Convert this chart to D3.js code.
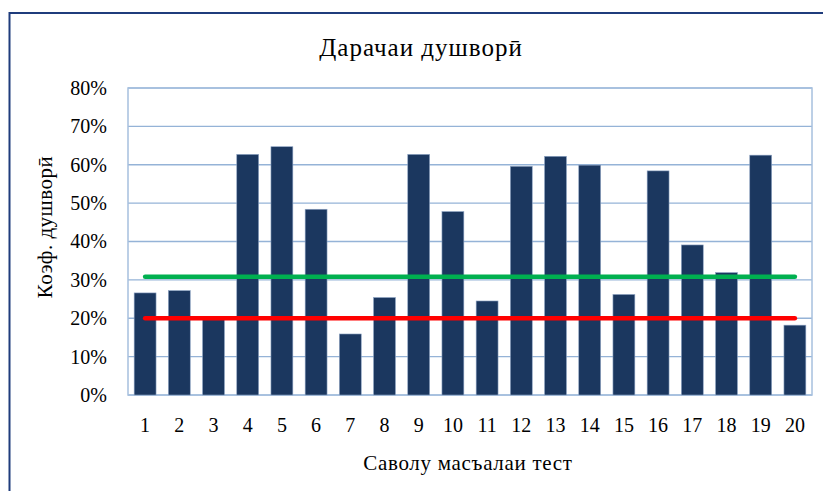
<!DOCTYPE html>
<html>
<head>
<meta charset="utf-8">
<script src="https://cdn.jsdelivr.net/npm/d3@7"></script>
<style>
  body { margin: 0; background: #fff; }
  text { font-family: "Liberation Serif", "DejaVu Serif", serif; fill: #000; }
</style>
</head>
<body>
<div id="chart"></div>
<script>
// data
const questions = ["1","2","3","4","5","6","7","8","9","10","11","12","13","14","15","16","17","18","19","20"]
const difficulty = [0.266, 0.272, 0.197, 0.627, 0.647, 0.484, 0.159, 0.254, 0.627, 0.478,
                    0.245, 0.596, 0.622, 0.599, 0.262, 0.584, 0.391, 0.319, 0.625, 0.182]
const greenLevel = 0.308
const redLevel = 0.20
const yTicks = [0, 0.1, 0.2, 0.3, 0.4, 0.5, 0.6, 0.7, 0.8]

const title = "Дарачаи душворӣ"
const xTitle = "Саволу масъалаи тест"
const yTitle = "Коэф. душворӣ"

const width = 823
const height = 491
const margin = { top: 88, bottom: 96, left: 128, right: 11 }

const svg = d3.select("#chart").append("svg").attr("width", width).attr("height", height)

// chart frame (only top and left edges fall inside the window)
svg.append("rect")
  .attr("x", 9.5).attr("y", 13)
  .attr("width", 900).attr("height", 600)
  .attr("fill", "none").attr("stroke", "#1f3c7c").attr("stroke-width", 2)

const x = d3.scaleBand().domain(questions)
  .range([margin.left, width - margin.right])
  .paddingInner(0.36).paddingOuter(0.18)
const y = d3.scaleLinear().domain([0, 0.8]).range([height - margin.bottom, margin.top])

// gridlines
svg.append("g").selectAll("line").data(yTicks).enter().append("line")
  .attr("x1", margin.left).attr("x2", width - margin.right)
  .attr("y1", d => y(d)).attr("y2", d => y(d))
  .attr("stroke", "#95b3d7").attr("stroke-width", 1.3)

// plot border
svg.append("rect")
  .attr("x", margin.left).attr("y", margin.top)
  .attr("width", width - margin.left - margin.right)
  .attr("height", height - margin.top - margin.bottom)
  .attr("fill", "none").attr("stroke", "#a7c0de").attr("stroke-width", 1.5)

// bars
svg.append("g").selectAll("rect").data(difficulty).enter().append("rect")
  .attr("x", (d, i) => x(questions[i]))
  .attr("y", d => y(d))
  .attr("width", x.bandwidth())
  .attr("height", d => y(0) - y(d))
  .attr("fill", "#1b375f")
  .attr("stroke", "#8ea4c4").attr("stroke-width", 0.6)

// horizontal reference lines
const first = questions[0], last = questions[questions.length - 1]
const line = d3.line().x(d => x(d[0]) + x.bandwidth() / 2).y(d => y(d[1]))
svg.append("path").datum([[first, greenLevel], [last, greenLevel]])
  .attr("d", line).attr("stroke", "#00b050").attr("stroke-width", 4.5)
  .attr("stroke-linecap", "round").attr("fill", "none")
svg.append("path").datum([[first, redLevel], [last, redLevel]])
  .attr("d", line).attr("stroke", "#ff0000").attr("stroke-width", 4.5)
  .attr("stroke-linecap", "round").attr("fill", "none")

// axes
const yAxis = d3.axisLeft(y).tickValues(yTicks).tickFormat(d3.format(".0%")).tickSize(0).tickPadding(21)
const yAxisGroup = svg.append("g").attr("transform", `translate(${margin.left},0)`).call(yAxis)
yAxisGroup.select(".domain").remove()
yAxisGroup.selectAll("text").attr("font-size", 20).attr("font-family", "Liberation Serif")

const xAxis = d3.axisBottom(x).tickSize(0).tickPadding(23)
const xAxisGroup = svg.append("g").attr("transform", `translate(0,${height - margin.bottom})`).call(xAxis)
xAxisGroup.select(".domain").remove()
xAxisGroup.selectAll("text").attr("font-size", 20).attr("font-family", "Liberation Serif")

// titles
svg.append("text").attr("x", 421).attr("y", 56).attr("text-anchor", "middle")
  .attr("font-size", 25).attr("letter-spacing", 1).text(title)
svg.append("text").attr("x", 468).attr("y", 470).attr("text-anchor", "middle")
  .attr("font-size", 21).attr("letter-spacing", 0.7).text(xTitle)
svg.append("text").attr("transform", "translate(52,227) rotate(-90)").attr("text-anchor", "middle")
  .attr("font-size", 21).attr("letter-spacing", 0.5).text(yTitle)
</script>
</body>
</html>
